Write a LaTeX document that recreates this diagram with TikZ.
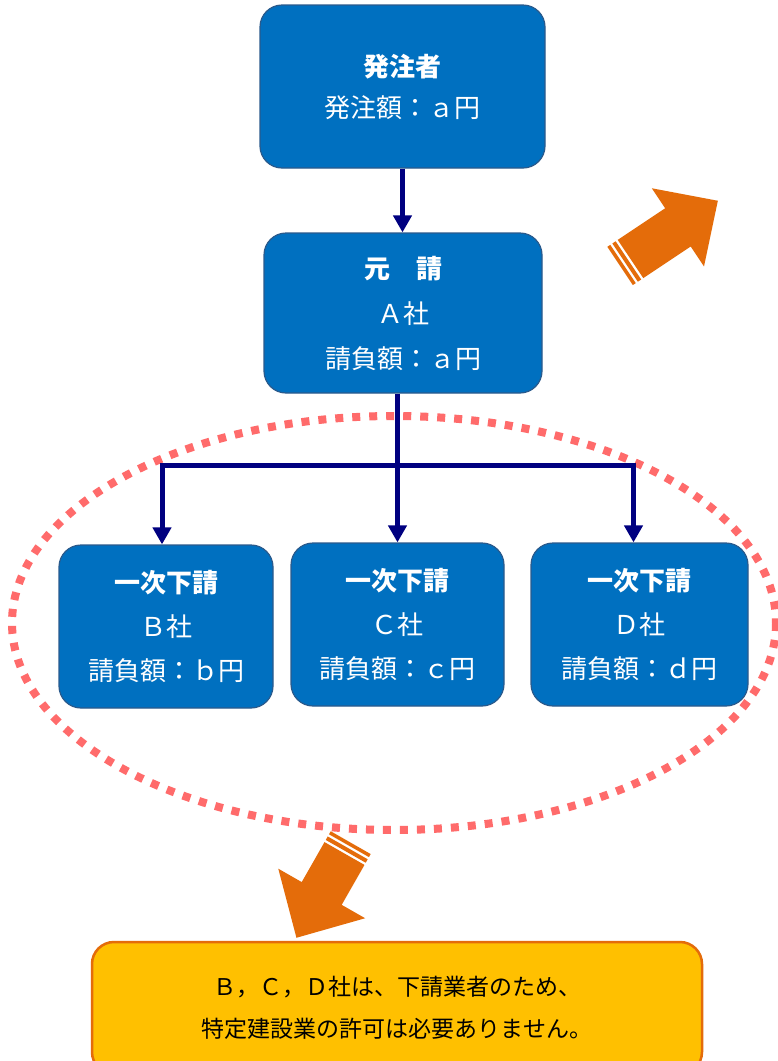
\documentclass[tikz,border=0pt]{standalone}
\usepackage{fontspec}
\setmainfont{Noto Sans CJK JP}
\usetikzlibrary{arrows.meta}
\definecolor{boxblue}{HTML}{0070C0}
\definecolor{boxedge}{HTML}{2A5A8C}
\definecolor{navyline}{HTML}{000080}
\definecolor{dotred}{HTML}{FF6B6B}
\definecolor{orangeA}{HTML}{E46C0A}
\definecolor{noteyellow}{HTML}{FFC000}
% x y angle shaftlength totallength headhalfwidth
\newcommand\orArrow[6]{%
  \begin{scope}[shift={(#1,#2)},rotate=#3]
    \fill[orangeA] (0,-23) -- (#4,-23) -- (#4,-#6) -- (#5,0) -- (#4,#6) -- (#4,23) -- (0,23) -- cycle;
    \fill[orangeA] (-6.5,-23) rectangle (-2.5,23);
    \fill[orangeA] (-12.5,-23) rectangle (-9,23);
  \end{scope}}
\begin{document}
\begin{tikzpicture}[x=1pt,y=-1pt,
  box/.style={draw=boxedge, line width=1.2pt, fill=boxblue, rounded corners=22pt,
    text=white, align=center, inner sep=0pt},
  topfont/.style={font=\fontsize{26}{41}\selectfont},
  midfont/.style={font=\fontsize{26}{45}\selectfont},
  subfont/.style={font=\fontsize{26}{44}\selectfont},
  conn/.style={draw=navyline, line width=5pt, -{Triangle[length=17pt,width=18pt]}},
  plainconn/.style={draw=navyline, line width=5pt},
  dotring/.style={draw=dotred, line width=8pt, dash pattern=on 8pt off 9pt},
  note/.style={draw=orangeA, line width=2.5pt, fill=noteyellow, rounded corners=22pt,
    align=center, inner sep=0pt, font=\fontsize{23}{42}\selectfont}]
\clip (0,0) rectangle (778,1061);
\fill[white] (0,0) rectangle (778,1061);

% dotted ellipse
\draw[dotring] (394,623) ellipse [x radius=382, y radius=207];

% boxes
\node[box, topfont, minimum width=285, minimum height=163] (P) at (402.5,86.5)
  {\textbf{発注者}\\発注額：ａ円};
\node[box, midfont, minimum width=278, minimum height=160] (A) at (403,313)
  {\textbf{元　請}\\Ａ社\\請負額：ａ円};
\node[box, subfont, minimum width=214, minimum height=163] (B) at (166,626.5)
  {\textbf{一次下請}\\Ｂ社\\請負額：ｂ円};
\node[box, subfont, minimum width=213, minimum height=163] (C) at (397.5,624.5)
  {\textbf{一次下請}\\Ｃ社\\請負額：ｃ円};
\node[box, subfont, minimum width=217, minimum height=163] (D) at (639.5,624.5)
  {\textbf{一次下請}\\Ｄ社\\請負額：ｄ円};

% connectors
\coordinate (hub) at (397.5,465);
\draw[conn] (P.south) -- (P.south |- A.north);
\draw[conn] (A.south -| C.north) -- (C.north);
\draw[conn] (hub) -| ([xshift=-4pt]B.north);
\draw[conn] (hub) -| ([xshift=-6pt]D.north);

% orange arrows
\orArrow{630.5}{259}{33.7}{57}{105}{47}
\orArrow{344.5}{853.5}{240.3}{46}{97}{50}

% note
\node[note, minimum width=610, minimum height=132] (N) at (397,1008)
  {Ｂ，Ｃ，Ｄ社は、下請業者のため、\\特定建設業の許可は必要ありません。};
\end{tikzpicture}
\end{document}
